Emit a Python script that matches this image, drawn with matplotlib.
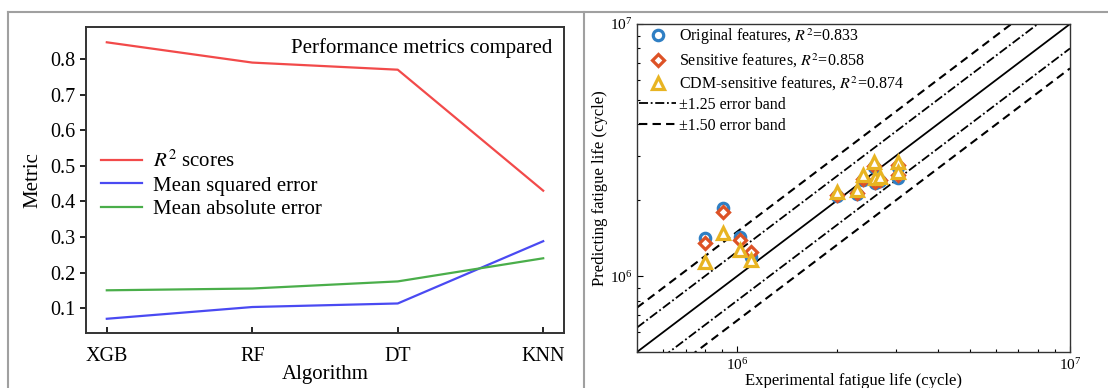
import matplotlib
matplotlib.use("Agg")
import matplotlib.pyplot as plt
from matplotlib.lines import Line2D
import numpy as np

plt.rcParams['font.family'] = ['Liberation Serif', 'DejaVu Serif']
plt.rcParams['mathtext.fontset'] = 'stix'

# left panel data
algorithms = ['XGB', 'RF', 'DT', 'KNN']
r2_scores = [0.847, 0.790, 0.770, 0.430]
mse = [0.070, 0.103, 0.113, 0.288]
mae = [0.150, 0.155, 0.175, 0.240]

# right panel data (experimental life, predicted life)
exp_life = [8.0e5, 9.05e5, 1.02e6, 1.10e6, 2.0e6, 2.29e6, 2.39e6, 2.57e6, 2.59e6, 2.69e6, 3.04e6, 3.04e6]
pred_original = [1.41e6, 1.86e6, 1.43e6, 1.19e6, 2.08e6, 2.12e6, 2.40e6, 2.70e6, 2.34e6, 2.38e6, 2.70e6, 2.46e6]
pred_sensitive = [1.35e6, 1.80e6, 1.39e6, 1.25e6, 2.10e6, 2.14e6, 2.42e6, 2.74e6, 2.36e6, 2.40e6, 2.76e6, 2.52e6]
pred_cdm = [1.14e6, 1.48e6, 1.27e6, 1.16e6, 2.16e6, 2.19e6, 2.52e6, 2.84e6, 2.44e6, 2.48e6, 2.84e6, 2.59e6]

fig = plt.figure(figsize=(11.08, 3.88), dpi=100)

# ---- left: metrics per algorithm
ax1 = fig.add_axes([86/1108, 1-333/388, 478/1108, 306/388])
xs = np.arange(len(algorithms))
ax1.plot(xs, r2_scores, color='#f24a4a', lw=1.6, label='$R^2$ scores')
ax1.plot(xs, mse, color='#4a4af2', lw=1.6, label='Mean squared error')
ax1.plot(xs, mae, color='#4aae4a', lw=1.6, label='Mean absolute error')
ax1.set_xlim(-0.143, 3.143)
ax1.set_ylim(0.03, 0.89)
ax1.set_xticks(xs)
ax1.set_xticklabels(algorithms)
ax1.set_yticks([0.1, 0.2, 0.3, 0.4, 0.5, 0.6, 0.7, 0.8])
ax1.tick_params(axis='y', direction='out', labelsize=14.5, length=4, width=1.2)
ax1.tick_params(axis='x', direction='in', labelsize=14.5, length=4, width=1.2, pad=10)
for s in ax1.spines.values():
    s.set_linewidth(1.4)
    s.set_color('#333333')
ax1.set_xlabel('Algorithm', fontsize=15, labelpad=-1)
ax1.set_ylabel('Metric', fontsize=15, labelpad=6)
ax1.text(0.975, 0.93, 'Performance metrics compared', transform=ax1.transAxes,
         ha='right', va='center', fontsize=15)
ax1.legend(loc='center left', bbox_to_anchor=(0.0, 0.484), frameon=False, fontsize=15,
           handlelength=2.0, handletextpad=0.5, labelspacing=0.2, borderaxespad=0.3)

# ---- right: predicted vs experimental fatigue life
ax2 = fig.add_axes([637/1108, 1-352/388, 433/1108, 328/388])
ax2.set_xscale('log')
ax2.set_yscale('log')
lo, hi = 5e5, 1e7
ref = np.array([lo, hi])
ax2.plot(ref, ref, color='black', lw=1.3)
dd = (0, (5, 1.5, 1, 1.5))
ax2.plot(ref, ref * 1.25, color='black', lw=1.3, ls=dd)
ax2.plot(ref, ref / 1.25, color='black', lw=1.3, ls=dd)
ax2.plot(ref, ref * 1.5, color='black', lw=1.5, ls=(0, (4, 2.5)))
ax2.plot(ref, ref / 1.5, color='black', lw=1.5, ls=(0, (4, 2.5)))

mk = dict(ls='none', markerfacecolor='white', markeredgewidth=2.3)
ax2.plot(exp_life, pred_original, marker='o', markersize=7.5, color='#2f7fc4', **mk)
ax2.plot(exp_life, pred_sensitive, marker='D', markersize=6.5, color='#dd5226', **mk)
ax2.plot(exp_life, pred_cdm, marker='^', markersize=9, color='#e8b422', **mk)

ax2.set_xlim(lo, hi)
ax2.set_ylim(lo, hi)
ax2.tick_params(which='both', direction='in', labelsize=11, width=0.8)
ax2.tick_params(which='major', length=4)
ax2.tick_params(which='minor', length=2.5)
for s in ax2.spines.values():
    s.set_linewidth(1.0)
    s.set_color('#333333')
ax2.set_xlabel('Experimental fatigue life (cycle)', fontsize=12, labelpad=0)
ax2.set_ylabel('Predicting fatigue life (cycle)', fontsize=12, labelpad=1)

handles = [
    Line2D([], [], marker='o', markersize=7.5, color='#2f7fc4', **mk),
    Line2D([], [], marker='D', markersize=6.5, color='#dd5226', **mk),
    Line2D([], [], marker='^', markersize=9, color='#e8b422', **mk),
    Line2D([], [], color='black', lw=1.3, ls=dd),
    Line2D([], [], color='black', lw=1.5, ls=(0, (4, 2.5))),
]
labels = ['Original features, $R^2$=0.833', 'Sensitive features, $R^2$=0.858',
          'CDM-sensitive features, $R^2$=0.874', '±1.25 error band', '±1.50 error band']
ax2.legend(handles, labels, loc='upper left', bbox_to_anchor=(0.0, 1.0), frameon=False,
           fontsize=11.5, handlelength=2.3, handletextpad=0.2, labelspacing=0.28,
           borderaxespad=0.0, borderpad=0.15)

# outer frame of the figure panel
for xy in [([8/1108, 1.0], [1-12/388, 1-12/388]),
           ([8/1108, 8/1108], [0, 1-12/388]),
           ([584/1108, 584/1108], [0, 1-12/388])]:
    fig.add_artist(Line2D(xy[0], xy[1], color='#a0a0a0', lw=1.5))

fig.savefig('out.png', dpi=100)
